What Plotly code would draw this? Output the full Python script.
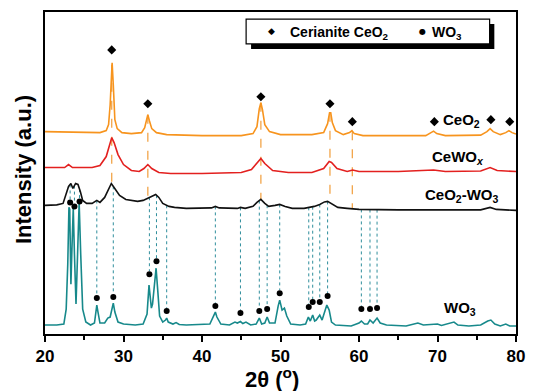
import numpy as np
import plotly.graph_objects as go

# ---------------- data (2theta in degrees, intensity in a.u., stacked) ----------------
ceo2_x = [20.0, 25.0, 27.0, 27.8, 28.1, 28.3, 28.45, 28.55, 28.7, 28.9, 29.2, 29.8, 31.0, 32.3, 32.7, 32.95,
          33.1, 33.3, 33.6, 34.2, 35.5, 40.0, 45.0, 46.5, 47.0, 47.3, 47.5, 47.7, 48.0, 48.6, 50.0, 54.0,
          55.5, 56.0, 56.25, 56.4, 56.6, 57.0, 58.0, 58.8, 59.1, 59.4, 60.5, 68.5, 69.2, 69.5, 69.9, 71.0,
          75.5, 76.3, 76.7, 77.1, 78.0, 78.7, 79.1, 79.5, 80.0]
ceo2_y = [203, 202, 202, 204, 210, 230, 268, 272, 250, 215, 206, 202, 201, 202, 207, 216,
          220, 214, 206, 202, 200, 199, 199, 201, 208, 226, 232, 225, 210, 203, 200, 200,
          202, 211, 222, 222, 212, 204, 200, 202, 204, 201, 199, 199, 202, 203.5, 201, 199,
          199.5, 203, 206, 203, 200, 202, 204, 202, 200.5]

cewox_x = [20.0, 22.5, 23.0, 23.5, 26.0, 27.0, 27.8, 28.2, 28.5, 28.8, 29.3, 30.0, 31.0, 32.0, 32.6, 33.1,
           33.6, 34.5, 36.0, 40.0, 45.0, 46.3, 47.0, 47.5, 48.0, 49.0, 51.0, 54.0, 55.5, 56.2, 56.5, 57.2,
           58.5, 59.2, 60.0, 65.0, 69.5, 71.0, 75.5, 76.7, 77.6, 80.0]
cewox_y = [167, 167, 170, 167, 167, 169, 178, 190, 197, 192, 180, 170, 164, 163, 166, 170,
           166, 162, 161, 161, 162, 165, 172, 176, 171, 164, 162, 162, 166, 173, 172, 166,
           163, 164.5, 163, 163, 164.5, 163, 163.5, 167, 164, 163]

mix_x = [20.0, 21.5, 22.3, 22.7, 23.0, 23.3, 23.55, 23.9, 24.2, 24.5, 24.8, 25.3, 26.0, 26.6, 27.0, 27.6,
         28.1, 28.45, 28.8, 29.5, 30.3, 31.0, 31.8, 32.5, 33.0, 33.5, 34.1, 34.5, 35.0, 35.8, 36.5, 38.0,
         41.2, 41.7, 42.2, 44.5, 44.9, 45.5, 46.5, 47.0, 47.5, 48.0, 48.5, 49.3, 49.9, 50.6, 51.5, 53.0,
         53.6, 54.3, 55.0, 55.6, 56.0, 56.6, 57.3, 58.5, 60.0, 65.0, 70.0, 75.5, 76.7, 77.5, 80.0]
mix_y = [129, 129.5, 131, 140, 148, 151, 146, 151, 150, 143, 134, 131, 131, 134, 132, 137,
         146, 151, 147, 139, 135, 134, 133, 134, 136, 138, 140, 137, 131, 128, 127, 126,
         126.5, 128, 126.5, 126, 127, 126, 128, 132, 135, 131, 128, 129, 130, 128, 126, 126,
         127, 128, 130, 132.5, 133, 130, 127, 126, 125, 124.5, 124.5, 124.5, 127, 125, 124]

wo3_x = [20.0, 21.5, 22.4, 22.7, 22.9, 23.05, 23.15, 23.3, 23.45, 23.6, 23.75, 23.95, 24.15, 24.35, 24.55,
         24.8, 25.2, 25.8, 26.3, 26.5, 26.6, 26.75, 27.0, 27.6, 28.0, 28.3, 28.55, 28.7, 28.9, 29.3, 30.0,
         31.5, 32.5, 33.0, 33.25, 33.4, 33.55, 33.7, 33.95, 34.15, 34.35, 34.6, 35.0, 35.35, 35.5, 35.7,
         36.3, 36.7, 37.1, 38.0, 41.0, 41.5, 41.7, 41.9, 42.4, 43.5, 44.2, 44.5, 44.9, 45.2, 45.6, 46.2,
         46.9, 47.3, 47.6, 48.0, 48.3, 48.6, 49.3, 49.7, 49.9, 50.2, 50.5, 50.8, 51.3, 52.5, 53.2, 53.55,
         53.8, 54.1, 54.35, 54.55, 55.0, 55.3, 55.6, 55.9, 56.2, 56.5, 57.0, 59.0, 60.0, 60.3, 60.7, 61.1,
         61.4, 61.8, 62.3, 62.7, 63.5, 66.0, 67.5, 68.2, 70.0, 70.5, 72.1, 72.6, 74.0, 75.5, 76.4, 76.8,
         77.3, 78.0, 78.7, 79.2, 80.0]
wo3_y = [9, 9, 10, 25, 70, 127, 125, 50, 90, 126, 80, 30, 80, 132, 80,
         25, 12, 9, 11, 25, 29, 22, 11, 11, 16, 17, 28, 31, 22, 12, 10,
         9, 10, 20, 49, 40, 26, 30, 55, 66, 45, 18, 12, 14, 16, 12,
         10, 11.5, 9.5, 9, 10, 18, 22, 17, 10, 9, 12, 11, 12.5, 10.5, 12, 9,
         10, 16, 10, 11, 17, 11, 11, 28, 34, 24, 26, 18, 10, 9, 10, 17,
         13, 19, 13, 14, 19, 14, 22, 29, 24, 12, 9, 8, 11, 13, 10, 10,
         14, 11, 16, 11, 9, 8, 11, 9, 10, 8.5, 12, 9, 8, 9, 13, 14,
         10, 8, 10, 8, 8]

# reflection markers
ceo2_peak_x = [28.5, 33.1, 47.5, 56.3, 59.15, 69.6, 76.8, 79.2]
ceo2_mark_y = [285, 231, 238, 231, 213, 213, 215, 213]
ceo2_guide_x = [28.5, 33.1, 47.5, 56.3, 59.15]

wo3_peak_x = [23.2, 23.75, 24.4, 26.6, 28.7, 33.3, 34.2, 35.5, 41.7, 44.9, 47.3, 48.3, 49.9,
              53.6, 54.1, 55.0, 56.0, 60.3, 61.4, 62.3]
wo3_mark_y = [132, 128, 133, 36, 37, 60, 73, 23, 28, 21, 23, 25, 41,
              27, 32, 32, 38, 25, 25, 26]

series_labels = ["CeO<sub>2</sub>", "CeWO<sub><i>x</i></sub>", "CeO<sub>2</sub>-WO<sub>3</sub>", "WO<sub>3</sub>"]
label_x = [73.1, 72.6, 73.1, 72.9]
label_y = [214, 177, 139, 26]

x_ticks = [20, 30, 40, 50, 60, 70, 80]

# ---------------- styling ----------------
C_ORANGE = "#F7941E"
C_RED = "#E3201F"
C_BLACK = "#111111"
C_TEAL = "#17898B"
FONT = "Liberation Sans, Arial, sans-serif"

fig = go.Figure()

# orange dashed guides (CeO2 peak -> CeO2-WO3 curve)
gx, gy = [], []
for x in ceo2_guide_x:
    top = float(np.interp(x, ceo2_x, ceo2_y))
    bot = float(np.interp(x, mix_x, mix_y))
    gx += [x, x, None]
    gy += [top, bot, None]
fig.add_trace(go.Scatter(x=gx, y=gy, mode="lines", showlegend=False, hoverinfo="skip",
                         line=dict(color="#F2A54A", width=1.3, dash="dash")))

# teal dotted guides (CeO2-WO3 curve -> WO3 marker)
dx, dy = [], []
for x, m in zip(wo3_peak_x, wo3_mark_y):
    top = float(np.interp(x, mix_x, mix_y))
    dx += [x, x, None]
    dy += [top, m + 3, None]
fig.add_trace(go.Scatter(x=dx, y=dy, mode="lines", showlegend=False, hoverinfo="skip",
                         line=dict(color="#2F8E9C", width=1, dash="dot")))

for xs, ys, col in [(ceo2_x, ceo2_y, C_ORANGE), (cewox_x, cewox_y, C_RED),
                    (mix_x, mix_y, C_BLACK), (wo3_x, wo3_y, C_TEAL)]:
    fig.add_trace(go.Scatter(x=xs, y=ys, mode="lines", showlegend=False,
                             line=dict(color=col, width=1.6)))

fig.add_trace(go.Scatter(x=ceo2_peak_x, y=ceo2_mark_y, mode="markers", showlegend=False,
                         marker=dict(symbol="diamond", size=7, color="black")))
fig.add_trace(go.Scatter(x=wo3_peak_x, y=wo3_mark_y, mode="markers", showlegend=False,
                         marker=dict(symbol="circle", size=6, color="black")))

# series labels
for t, x, y in zip(series_labels, label_x, label_y):
    fig.add_annotation(x=x, y=y, text=t, showarrow=False, xref="x", yref="y",
                       xanchor="center", yanchor="middle",
                       font=dict(family=FONT, size=15, color="black", weight="bold"))

# legend box with drop shadow
fig.add_shape(type="rect", xref="paper", yref="paper", x0=0.4375, x1=0.954, y0=0.885, y1=0.963,
              fillcolor="black", line=dict(width=0), layer="above")
fig.add_shape(type="rect", xref="paper", yref="paper", x0=0.427, x1=0.944, y0=0.901, y1=0.978,
              fillcolor="white", line=dict(color="black", width=1.2), layer="above")
fig.add_annotation(x=0.481, y=0.94, xref="paper", yref="paper", text="◆", showarrow=False,
                   xanchor="center", yanchor="middle",
                   font=dict(family="DejaVu Sans", size=9, color="black"))
fig.add_annotation(x=0.515, y=0.935, xref="paper", yref="paper", xanchor="left", yanchor="middle",
                   text="Cerianite CeO<sub>2</sub>", showarrow=False,
                   font=dict(family=FONT, size=14, color="black", weight="bold"))
fig.add_annotation(x=0.802, y=0.94, xref="paper", yref="paper", text="●", showarrow=False,
                   xanchor="center", yanchor="middle",
                   font=dict(family="DejaVu Sans", size=8, color="black"))
fig.add_annotation(x=0.818, y=0.935, xref="paper", yref="paper", xanchor="left", yanchor="middle",
                   text="WO<sub>3</sub>", showarrow=False,
                   font=dict(family=FONT, size=14, color="black", weight="bold"))

# axis titles
fig.add_annotation(x=0.483, y=-0.137, xref="paper", yref="paper", showarrow=False,
                   xanchor="center", yanchor="middle",
                   text="2θ (<sup>o</sup>)",
                   font=dict(family=FONT, size=22, color="black", weight="bold"))
fig.add_annotation(x=-0.044, y=0.51, xref="paper", yref="paper", showarrow=False, textangle=-90,
                   xanchor="center", yanchor="middle",
                   text="Intensity (a.u.)",
                   font=dict(family=FONT, size=22, color="black", weight="bold"))

fig.update_layout(
    width=535, height=391,
    margin=dict(l=45, r=10, t=11, b=57),
    paper_bgcolor="white", plot_bgcolor="white",
    showlegend=False,
    xaxis=dict(range=[20, 80], tickvals=x_ticks, ticks="outside", ticklen=6, tickwidth=1.5,
               tickcolor="black", showline=True, linecolor="black", linewidth=1.5, mirror=True,
               showgrid=False, zeroline=False,
               minor=dict(dtick=5, ticks="outside", ticklen=4, tickwidth=1.5, tickcolor="black"),
               tickfont=dict(family=FONT, size=17, color="black", weight="bold")),
    yaxis=dict(range=[0, 323], showticklabels=False, ticks="", showline=True, linecolor="black",
               linewidth=1.5, mirror=True, showgrid=False, zeroline=False),
)

fig.write_html("out.html")
